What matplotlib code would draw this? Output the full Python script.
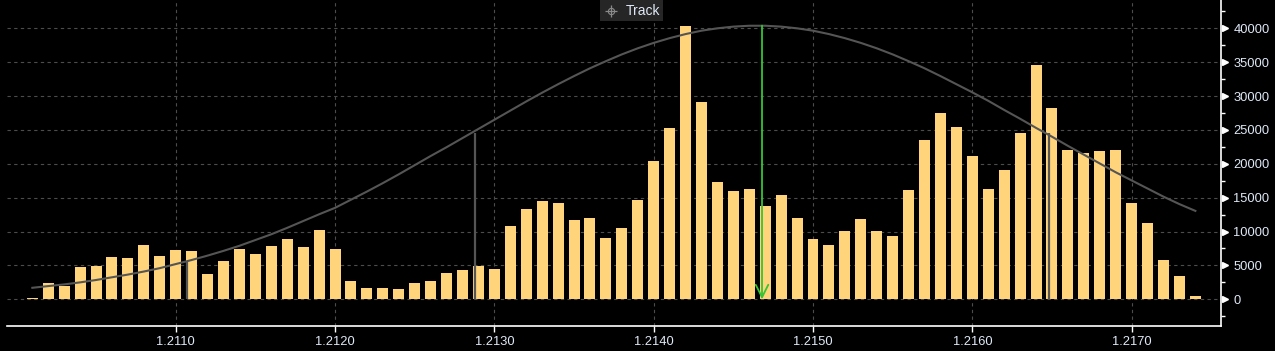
#!/usr/bin/env python3
"""Volume-at-price histogram with a fitted bell curve, dark terminal style."""

import matplotlib

matplotlib.use("Agg")
import matplotlib.pyplot as plt
from matplotlib.lines import Line2D
from matplotlib.patches import Rectangle
from matplotlib.transforms import blended_transform_factory

# Price buckets (one bar per 0.0001)
PRICES = [
    1.2101, 1.2102, 1.2103, 1.2104, 1.2105, 1.2106, 1.2107, 1.2108, 1.2109, 1.2110,
    1.2111, 1.2112, 1.2113, 1.2114, 1.2115, 1.2116, 1.2117, 1.2118, 1.2119, 1.2120,
    1.2121, 1.2122, 1.2123, 1.2124, 1.2125, 1.2126, 1.2127, 1.2128, 1.2129, 1.2130,
    1.2131, 1.2132, 1.2133, 1.2134, 1.2135, 1.2136, 1.2137, 1.2138, 1.2139, 1.2140,
    1.2141, 1.2142, 1.2143, 1.2144, 1.2145, 1.2146, 1.2147, 1.2148, 1.2149, 1.2150,
    1.2151, 1.2152, 1.2153, 1.2154, 1.2155, 1.2156, 1.2157, 1.2158, 1.2159, 1.2160,
    1.2161, 1.2162, 1.2163, 1.2164, 1.2165, 1.2166, 1.2167, 1.2168, 1.2169, 1.2170,
    1.2171, 1.2172, 1.2173, 1.2174,
]

VOLUMES = [
    200, 2400, 2000, 4800, 4950, 6250, 6100, 8000, 6400, 7300,
    7150, 3750, 5650, 7450, 6700, 7850, 8900, 7700, 10250, 7450,
    2700, 1700, 1700, 1550, 2400, 2700, 3900, 4350, 4900, 4450,
    10800, 13300, 14500, 14200, 11700, 12000, 9050, 10500, 14650, 20400,
    25300, 40350, 29100, 17300, 16000, 16250, 13750, 15400, 12000, 8900,
    8000, 10100, 11850, 10100, 9350, 16150, 23500, 27500, 25450, 21150,
    16300, 19100, 24550, 34600, 28250, 22050, 21600, 21900, 22050, 14200,
    11250, 5800, 3450, 500,
]

# Fitted distribution curve, read at each bucket
CURVE = [
    1700, 1950, 2200, 2500, 2850, 3250, 3650, 4100, 4600, 5200,
    5800, 6450, 7150, 7900, 8750, 9600, 10550, 11550, 12550, 13500,
    14700, 15900, 17150, 18450, 19800, 21150, 22450, 23800, 25150, 26500,
    27850, 29200, 30500, 31750, 32950, 34100, 35150, 36150, 37050, 37850,
    38550, 39150, 39650, 40000, 40250, 40380, 40380, 40250, 40000, 39650,
    39150, 38550, 37850, 37050, 36150, 35150, 34100, 32950, 31750, 30550,
    29300, 27950, 26650, 25300, 24000, 22650, 21350, 20050, 18750, 17550,
    16350, 15150, 14050, 13050,
]

# Sigma markers (price, curve height) and the peak arrow
SIGMA_PRICES = [1.21107, 1.21288, 1.21648]
SIGMA_HEIGHTS = [5500, 24600, 24600]
PEAK_PRICE = 1.21468
PEAK_VALUE = 40400

Y_TICKS = [0, 5000, 10000, 15000, 20000, 25000, 30000, 35000, 40000]
Y_MINOR = [-2500, 2500, 7500, 12500, 17500, 22500, 27500, 32500, 37500, 42500]
X_TICKS = [1.2110, 1.2120, 1.2130, 1.2140, 1.2150, 1.2160, 1.2170]

BAR_COLOR = "#ffd47a"
CURVE_COLOR = "#555555"
GRID_COLOR = "#4c4c4c"
TEXT_COLOR = "#dfe9f7"
ARROW_COLOR = "#35c435"

plt.rcParams["font.family"] = ["Liberation Sans", "DejaVu Sans"]

W, H = 1275, 351
fig = plt.figure(figsize=(W / 100, H / 100), dpi=100, facecolor="black")
ax = fig.add_axes([7 / W, 25 / H, (1220.7 - 7) / W, 326 / H])
ax.set_facecolor("black")

ax.set_xlim(1.209941, 1.217559)
ax.set_ylim(-3941, 44180)

# grid
for y in Y_TICKS:
    ax.axhline(y, color=GRID_COLOR, lw=0.8, ls=(0, (3, 3)), zorder=0)
for x in X_TICKS:
    ax.axvline(x, color=GRID_COLOR, lw=0.8, ls=(0, (3, 3)), zorder=0)

ax.bar(PRICES, VOLUMES, width=0.000069, color=BAR_COLOR, linewidth=0, zorder=2)
ax.plot(PRICES, CURVE, color=CURVE_COLOR, lw=1.5, zorder=3)
ax.vlines(SIGMA_PRICES, 0, SIGMA_HEIGHTS, color=CURVE_COLOR, lw=1.6, zorder=3)

ax.annotate(
    "",
    xy=(PEAK_PRICE, 0),
    xytext=(PEAK_PRICE, PEAK_VALUE),
    arrowprops=dict(arrowstyle="->,head_length=0.9,head_width=0.45",
                    color=ARROW_COLOR, lw=1.3, shrinkA=0, shrinkB=0),
    zorder=4,
)

# spines
for side in ("top", "left"):
    ax.spines[side].set_visible(False)
ax.spines["bottom"].set_color("white")
ax.spines["right"].set_color("white")
ax.spines["bottom"].set_linewidth(1.2)
ax.spines["right"].set_linewidth(1.2)

ax.yaxis.tick_right()
ax.set_yticks(Y_TICKS)
ax.set_yticks(Y_MINOR, minor=True)
ax.set_yticklabels([str(v) for v in Y_TICKS])
ax.tick_params(axis="y", which="major", length=0, pad=9, labelsize=9.3, labelcolor=TEXT_COLOR)
ax.tick_params(axis="y", which="minor", length=3, width=1, color="white", direction="out")

ax.set_xticks(X_TICKS)
ax.set_xticklabels([f"{v:.4f}" for v in X_TICKS])
ax.tick_params(axis="x", length=4, width=1, color="white", pad=3,
               labelsize=9.3, labelcolor=TEXT_COLOR)

# triangular major tick markers on the right axis
tri = blended_transform_factory(ax.transAxes, ax.transData)
ax.plot([1.0035] * len(Y_TICKS), Y_TICKS, marker=">", ls="none", ms=5,
        color="white", transform=tri, clip_on=False, zorder=5)

# "Track" button at the top
fig.add_artist(Rectangle((600 / W, 1 - 20.5 / H), 63 / W, 20.5 / H,
                         transform=fig.transFigure, facecolor="#262626",
                         edgecolor="none"))
fig.add_artist(Line2D([611 / W], [1 - 11 / H], marker="+", ms=9, mew=0.9,
                      color="#8a8a8a", transform=fig.transFigure))
fig.add_artist(Line2D([611 / W], [1 - 11 / H], marker="o", ms=4.5, mew=0.8,
                      mfc="none", color="#8a8a8a", transform=fig.transFigure))
fig.text(626 / W, 1 - 11 / H, "Track", color=TEXT_COLOR, fontsize=10,
         ha="left", va="center")

fig.savefig("out.png", dpi=100, facecolor="black")
